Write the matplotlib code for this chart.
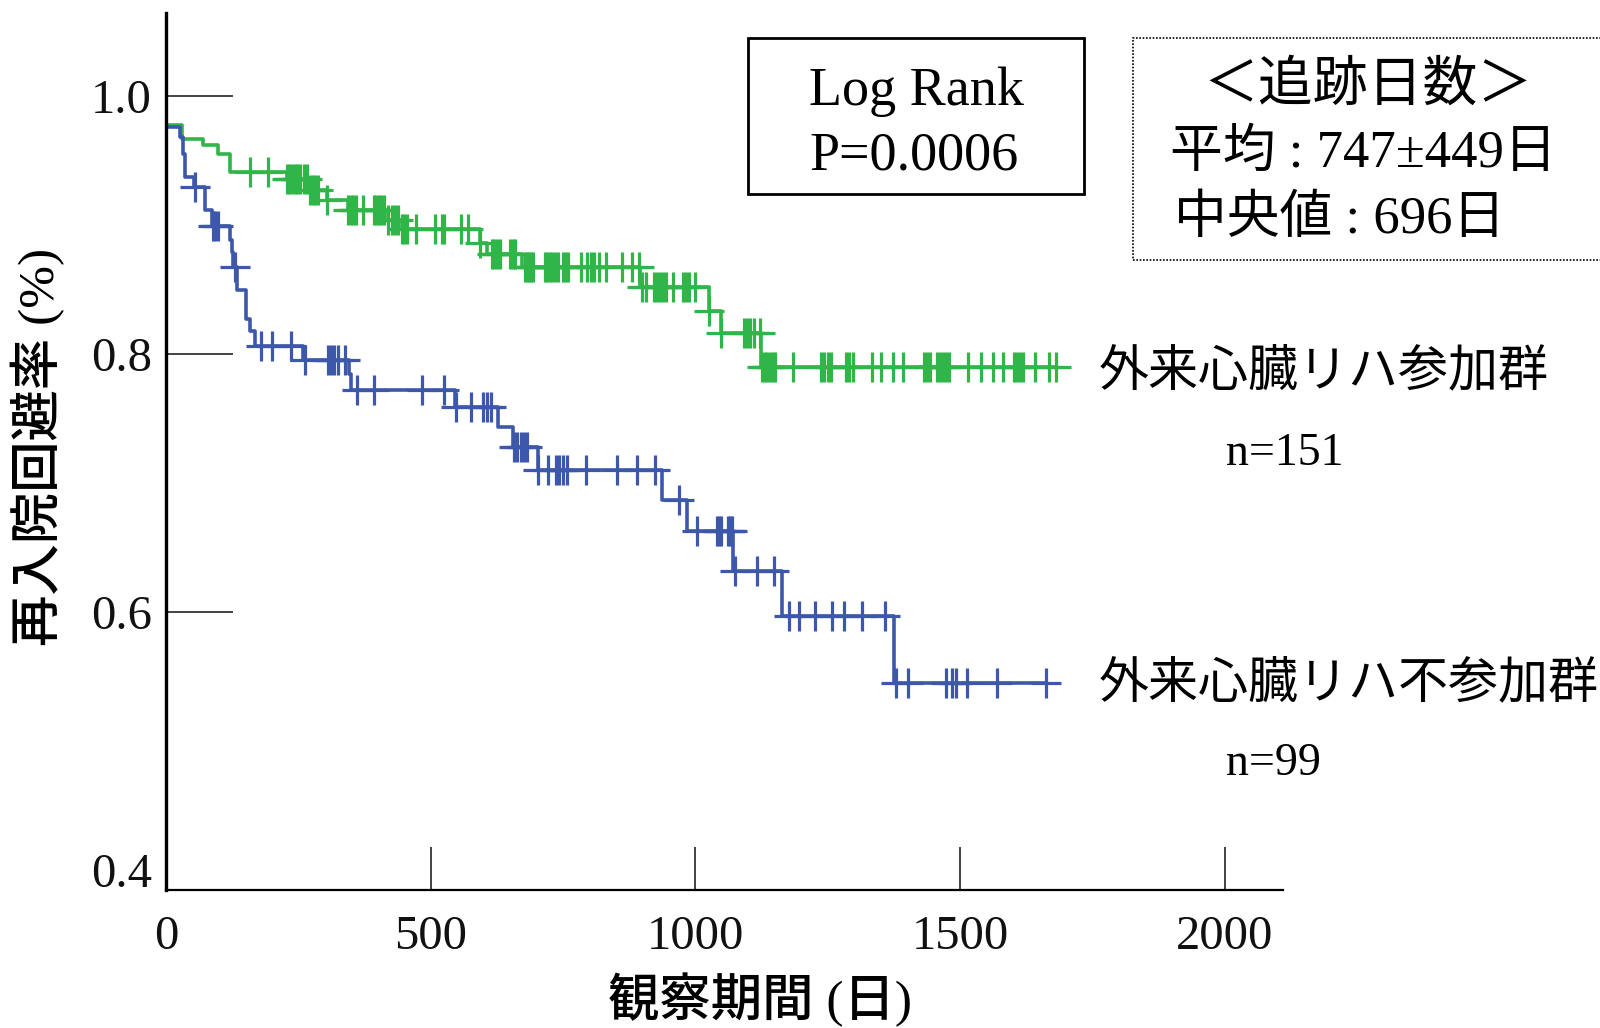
import numpy as np
import matplotlib
matplotlib.use('Agg')
import matplotlib.pyplot as plt
from matplotlib.patches import Rectangle

# 字体：数字用 Times 系，日文用 Noto CJK
serif_cjk = ['Liberation Serif', 'Noto Sans CJK JP']
plt.rcParams['font.family'] = serif_cjk

# ====数据
# 外来心臓リハ参加群 (n=151)
green_t = [0, 29.6, 70.5, 98.8, 120.9, 228, 272, 304, 344, 420, 445, 593, 607, 673, 896, 1026, 1049, 1124]
green_s = [0.977, 0.966, 0.962, 0.955, 0.941, 0.935, 0.927, 0.919, 0.911, 0.904, 0.897, 0.886, 0.877,
           0.867, 0.852, 0.833, 0.816, 0.790]
green_end = 1682
green_censor = [159, 193, 228, 233, 238, 243, 248, 254, 260, 266, 272, 277, 282, 287, 304, 344, 349, 354,
                359, 373, 392, 397, 402, 407, 412, 420, 426, 432, 438, 445, 450, 456, 473, 508, 521, 526,
                558, 571, 593, 615, 620, 625, 630, 650, 655, 660, 678, 682, 686, 690, 694, 715, 720, 725,
                730, 735, 740, 749, 754, 760, 784, 796, 802, 808, 817, 831, 862, 881, 894, 900, 906, 921,
                927, 933, 939, 945, 957, 977, 983, 988, 1000, 1026, 1049, 1092, 1098, 1104, 1110, 1122,
                1126, 1131, 1136, 1141, 1146, 1151, 1185, 1237, 1243, 1250, 1257, 1285, 1291, 1297, 1333,
                1351, 1374, 1393, 1432, 1438, 1444, 1456, 1462, 1468, 1474, 1480, 1515, 1539, 1562, 1582,
                1601, 1607, 1613, 1619, 1641, 1668, 1682]

# 外来心臓リハ不参加群 (n=99)
blue_t = [0, 27, 32, 36, 52, 74, 87, 121, 124, 127, 135, 152, 159, 168, 259, 345, 350, 545, 628, 655,
          703, 936, 984, 1071, 1163, 1375]
blue_s = [0.976, 0.968, 0.955, 0.937, 0.929, 0.911, 0.899, 0.888, 0.879, 0.867, 0.849, 0.827, 0.818,
          0.806, 0.795, 0.784, 0.772, 0.759, 0.743, 0.728, 0.710, 0.687, 0.663, 0.632, 0.597, 0.545]
blue_end = 1663
blue_censor = [55, 88, 93, 98, 131, 180, 200, 237, 262, 306, 312, 318, 324, 338, 360, 393, 484, 525, 548,
               577, 599, 606, 613, 657, 663, 670, 676, 682, 703, 721, 736, 743, 750, 757, 794, 852, 889,
               923, 969, 1003, 1040, 1044, 1048, 1061, 1066, 1070, 1075, 1116, 1148, 1177, 1196, 1226,
               1259, 1280, 1314, 1358, 1379, 1402, 1474, 1485, 1492, 1513, 1569, 1663]

x_ticks = [0, 500, 1000, 1500, 2000]
y_ticks = [0.4, 0.6, 0.8, 1.0]
y_tick_labels = ['0.4', '0.6', '0.8', '1.0']

green_color = '#2fb548'
blue_color = '#3d58aa'


def surv_at(times, step_t, step_s):
    idx = np.searchsorted(step_t, times, side='right') - 1
    return np.asarray(step_s)[idx]


# ====画图
W, H = 1600, 1028
fig = plt.figure(figsize=(W / 100, H / 100), dpi=100)


def fx(x):
    return x / W


def fy(y):
    return 1 - y / H


ax = fig.add_axes([fx(166), fy(890), (1283 - 166) / W, (890 - 13) / H])

for st, ss, end, cens, col in [(green_t, green_s, green_end, green_censor, green_color),
                               (blue_t, blue_s, blue_end, blue_censor, blue_color)]:
    ax.step(st + [end], ss + [ss[-1]], where='post', color=col, lw=2.6)
    ax.plot(cens, surv_at(cens, st, ss), linestyle='none', marker='+', markersize=21,
            markeredgewidth=2.3, color=col)

ax.set_xlim(0, 2110)
ax.set_ylim(0.3845, 1.064)
ax.spines['top'].set_visible(False)
ax.spines['right'].set_visible(False)
ax.spines['left'].set_linewidth(2.4)
ax.spines['bottom'].set_linewidth(1.6)

ax.set_xticks(x_ticks)
ax.set_xticklabels([str(v) for v in x_ticks])
ax.set_yticks(y_ticks)
ax.set_yticklabels(y_tick_labels)
ax.tick_params(axis='x', direction='in', length=31, width=1.1, pad=18, labelsize=35, colors='#111111')
ax.tick_params(axis='y', direction='in', length=48, width=1.1, pad=10, labelsize=35, colors='#111111')
ax.yaxis.get_major_ticks()[0].tick1line.set_visible(False)
ax.xaxis.get_major_ticks()[0].tick1line.set_visible(False)

# 轴标题
fig.text(fx(38), fy(447), '再入院回避率 (%)', rotation=90, ha='center', va='center', fontsize=37,
         fontweight='medium')
fig.text(fx(760), fy(1000), '観察期間 (日)', ha='center', va='center', fontsize=37, fontweight='medium')

# Log Rank 框
fig.patches.append(Rectangle((fx(748), fy(194)), (1084 - 748) / W, (194 - 38) / H,
                             transform=fig.transFigure, fill=False, lw=2.0, ec='black'))
fig.text(fx(916), fy(105), 'Log Rank', ha='center', va='baseline', fontsize=39)
fig.text(fx(914), fy(170), 'P=0.0006', ha='center', va='baseline', fontsize=39)

# 追跡日数 框（虚线）
fig.patches.append(Rectangle((fx(1133), fy(260)), (1615 - 1133) / W, (260 - 38) / H,
                             transform=fig.transFigure, fill=False, lw=1.2, ec='black',
                             linestyle=(0, (1, 1))))
fig.text(fx(1368), fy(101), '＜追跡日数＞', ha='center', va='baseline', fontsize=39.5)
fig.text(fx(1170), fy(167), '平均 : 747±449日', ha='left', va='baseline', fontsize=38)
fig.text(fx(1174), fy(233), '中央値 : 696日', ha='left', va='baseline', fontsize=38)

# 组别标签
fig.text(fx(1099), fy(385), '外来心臓リハ参加群', ha='left', va='baseline', fontsize=36)
fig.text(fx(1226), fy(465), 'n=151', ha='left', va='baseline', fontsize=33)
fig.text(fx(1099), fy(697), '外来心臓リハ不参加群', ha='left', va='baseline', fontsize=36)
fig.text(fx(1226), fy(775), 'n=99', ha='left', va='baseline', fontsize=33)

fig.savefig('out.png', dpi=100)
